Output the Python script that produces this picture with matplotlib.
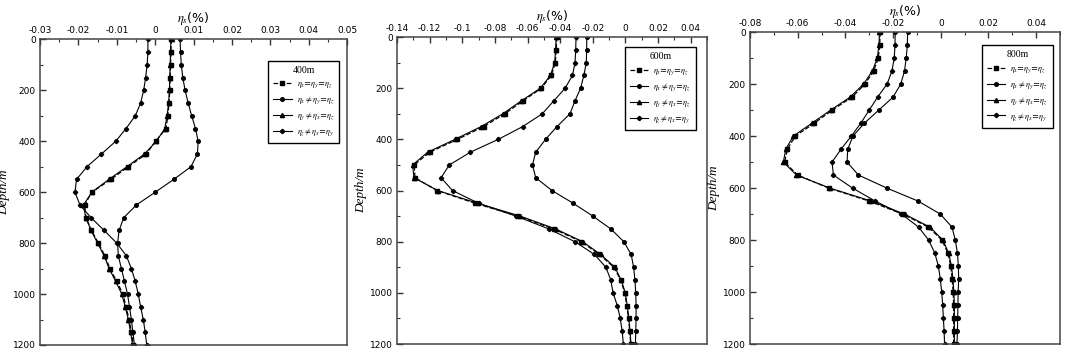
import numpy as np
import matplotlib.pyplot as plt
from matplotlib.ticker import MultipleLocator, FuncFormatter

# Глубина, м (шаг 50 м)
depth = np.arange(0, 1201, 50)

# 400 m
s400 = [0.0042, 0.0041, 0.0040, 0.0039, 0.0038, 0.0036, 0.0033, 0.0028, 0.0001, -0.0024, -0.0070, -0.0116, -0.0165,
        -0.0184, -0.0180, -0.0166, -0.0148, -0.0131, -0.0118, -0.0100, -0.0084, -0.0076, -0.0068, -0.0062, -0.0057]
c400 = [0.0065, 0.0066, 0.0068, 0.0072, 0.0078, 0.0086, 0.0095, 0.0105, 0.0112, 0.0110, 0.0093, 0.0048, 0.0000,
        -0.0049, -0.0082, -0.0094, -0.0098, -0.0096, -0.0088, -0.0080, -0.0072, -0.0067, -0.0062, -0.0058, -0.0054]
t400 = [0.0041, 0.0040, 0.0039, 0.0038, 0.0037, 0.0035, 0.0031, 0.0025, 0.0003, -0.0028, -0.0074, -0.0121, -0.0165,
        -0.0187, -0.0181, -0.0167, -0.0150, -0.0133, -0.0120, -0.0103, -0.0087, -0.0078, -0.0070, -0.0064, -0.0059]
p400 = [-0.0019, -0.0019, -0.0021, -0.0025, -0.0030, -0.0038, -0.0052, -0.0076, -0.0103, -0.0140, -0.0178, -0.0205,
        -0.0209, -0.0196, -0.0167, -0.0133, -0.0100, -0.0075, -0.0062, -0.0052, -0.0044, -0.0038, -0.0031, -0.0026, -0.0022]

# 600 m
s600 = [-0.0421, -0.0425, -0.0430, -0.0455, -0.0515, -0.0630, -0.0740, -0.0870, -0.1030, -0.1200, -0.1295, -0.1290,
        -0.1155, -0.0920, -0.0660, -0.0440, -0.0270, -0.0160, -0.0070, -0.0030, -0.0004, 0.0008, 0.0019, 0.0026, 0.0032]
c600 = [-0.0237, -0.0238, -0.0240, -0.0255, -0.0275, -0.0310, -0.0340, -0.0420, -0.0490, -0.0550, -0.0570, -0.0550,
        -0.0450, -0.0320, -0.0200, -0.0090, -0.0010, 0.0035, 0.0050, 0.0058, 0.0063, 0.0065, 0.0065, 0.0063, 0.0061]
t600 = [-0.0425, -0.0428, -0.0434, -0.0460, -0.0522, -0.0640, -0.0752, -0.0885, -0.1045, -0.1212, -0.1305, -0.1296,
        -0.1150, -0.0905, -0.0645, -0.0428, -0.0262, -0.0152, -0.0065, -0.0026, -0.0001, 0.0011, 0.0021, 0.0028, 0.0034]
p600 = [-0.0303, -0.0305, -0.0309, -0.0325, -0.0370, -0.0440, -0.0510, -0.0630, -0.0780, -0.0950, -0.1080, -0.1130,
        -0.1060, -0.0900, -0.0670, -0.0470, -0.0310, -0.0190, -0.0120, -0.0090, -0.0076, -0.0050, -0.0032, -0.0020, -0.0013]

# 800 m
s800 = [-0.0254, -0.0256, -0.0262, -0.0282, -0.0318, -0.0372, -0.0455, -0.0530, -0.0610, -0.0643, -0.0655, -0.0600,
        -0.0470, -0.0300, -0.0160, -0.0052, 0.0005, 0.0030, 0.0042, 0.0048, 0.0052, 0.0054, 0.0054, 0.0054, 0.0054]
c800 = [-0.0139, -0.0140, -0.0145, -0.0152, -0.0168, -0.0200, -0.0260, -0.0320, -0.0368, -0.0390, -0.0393, -0.0345,
        -0.0226, -0.0095, -0.0002, 0.0047, 0.0061, 0.0070, 0.0074, 0.0075, 0.0073, 0.0072, 0.0071, 0.0070, 0.0068]
t800 = [-0.0257, -0.0259, -0.0266, -0.0287, -0.0324, -0.0380, -0.0462, -0.0540, -0.0618, -0.0650, -0.0660, -0.0605,
        -0.0465, -0.0292, -0.0152, -0.0046, 0.0009, 0.0033, 0.0045, 0.0051, 0.0055, 0.0057, 0.0057, 0.0057, 0.0057]
p800 = [-0.0191, -0.0192, -0.0195, -0.0205, -0.0225, -0.0265, -0.0300, -0.0335, -0.0375, -0.0418, -0.0456, -0.0450,
        -0.0370, -0.0275, -0.0165, -0.0093, -0.0051, -0.0025, -0.0010, -0.0002, 0.0004, 0.0008, 0.0011, 0.0014, 0.0016]

titles = ['400m', '600m', '800m']
labels = [r'$\eta_x$=$\eta_y$=$\eta_z$', r'$\eta_x$$\neq$$\eta_y$=$\eta_z$',
          r'$\eta_y$$\neq$$\eta_x$=$\eta_z$', r'$\eta_z$$\neq$$\eta_x$=$\eta_y$']
xlims = [(-0.03, 0.05), (-0.14, 0.05), (-0.08, 0.05)]
xmajor = [0.01, 0.02, 0.02]
series = [(s400, c400, t400, p400), (s600, c600, t600, p600), (s800, c800, t800, p800)]

# положение осей в долях рисунка
boxes = [[0.0376, 0.0199, 0.2883, 0.868],
         [0.3728, 0.0227, 0.2911, 0.872],
         [0.7042, 0.0227, 0.2911, 0.886]]
leg_anchor = [(0.987, 0.943), (0.977, 0.980), (0.990, 0.971)]

plt.rcParams['mathtext.fontset'] = 'stix'
fig = plt.figure(figsize=(10.65, 3.52), dpi=100)

for i in range(3):
    ax = fig.add_axes(boxes[i])
    s, c, t, p = series[i]
    ax.plot(s, depth, 'k--', marker='s', ms=3.2, lw=0.9, label=labels[0])
    ax.plot(c, depth, 'k-', marker='o', ms=2.6, lw=0.8, label=labels[1])
    ax.plot(t, depth, 'k-', marker='^', ms=3.0, lw=0.8, label=labels[2])
    ax.plot(p, depth, 'k-', marker='P', ms=2.8, lw=0.8, label=labels[3])

    ax.set_xlim(xlims[i])
    ax.set_ylim(1200, 0)
    ax.xaxis.set_major_locator(MultipleLocator(xmajor[i]))
    ax.xaxis.set_minor_locator(MultipleLocator(xmajor[i] / 2))
    ax.yaxis.set_major_locator(MultipleLocator(200))
    ax.yaxis.set_minor_locator(MultipleLocator(100))
    ax.xaxis.set_major_formatter(FuncFormatter(lambda v, pos: '{:g}'.format(round(v, 3))))
    if i > 0:
        # последняя метка 0.05 не подписана
        ax.set_xticks(np.arange(xlims[i][0], 0.041, xmajor[i]))
    ax.xaxis.tick_top()
    ax.xaxis.set_label_position('top')
    ax.tick_params(which='both', direction='in', top=True, bottom=False, left=True, right=False,
                   labelsize=6.5, pad=3, colors='#333333', labelcolor='black')
    ax.tick_params(which='major', length=4, width=1)
    ax.tick_params(which='minor', length=2.5, width=0.8)
    for sp in ax.spines.values():
        sp.set_linewidth(1.1)
        sp.set_color('#444444')

    ax.set_xlabel(r'$\eta_s$(%)', fontsize=9, labelpad=3)
    ax.set_ylabel('Depth/m', fontsize=9.5, style='italic', family='Liberation Serif')
    ax.yaxis.set_label_coords(-0.097, 0.5)

    leg = ax.legend(title=titles[i], loc='upper right', bbox_to_anchor=leg_anchor[i],
                    fontsize=6, title_fontsize=7, fancybox=False, framealpha=1, edgecolor='black',
                    handlelength=2.2, labelspacing=0.5, borderpad=0.6, handletextpad=0.6)
    leg.get_frame().set_linewidth(1.0)
    leg.get_title().set_family('Liberation Serif')

plt.savefig('out.png', dpi=100)
